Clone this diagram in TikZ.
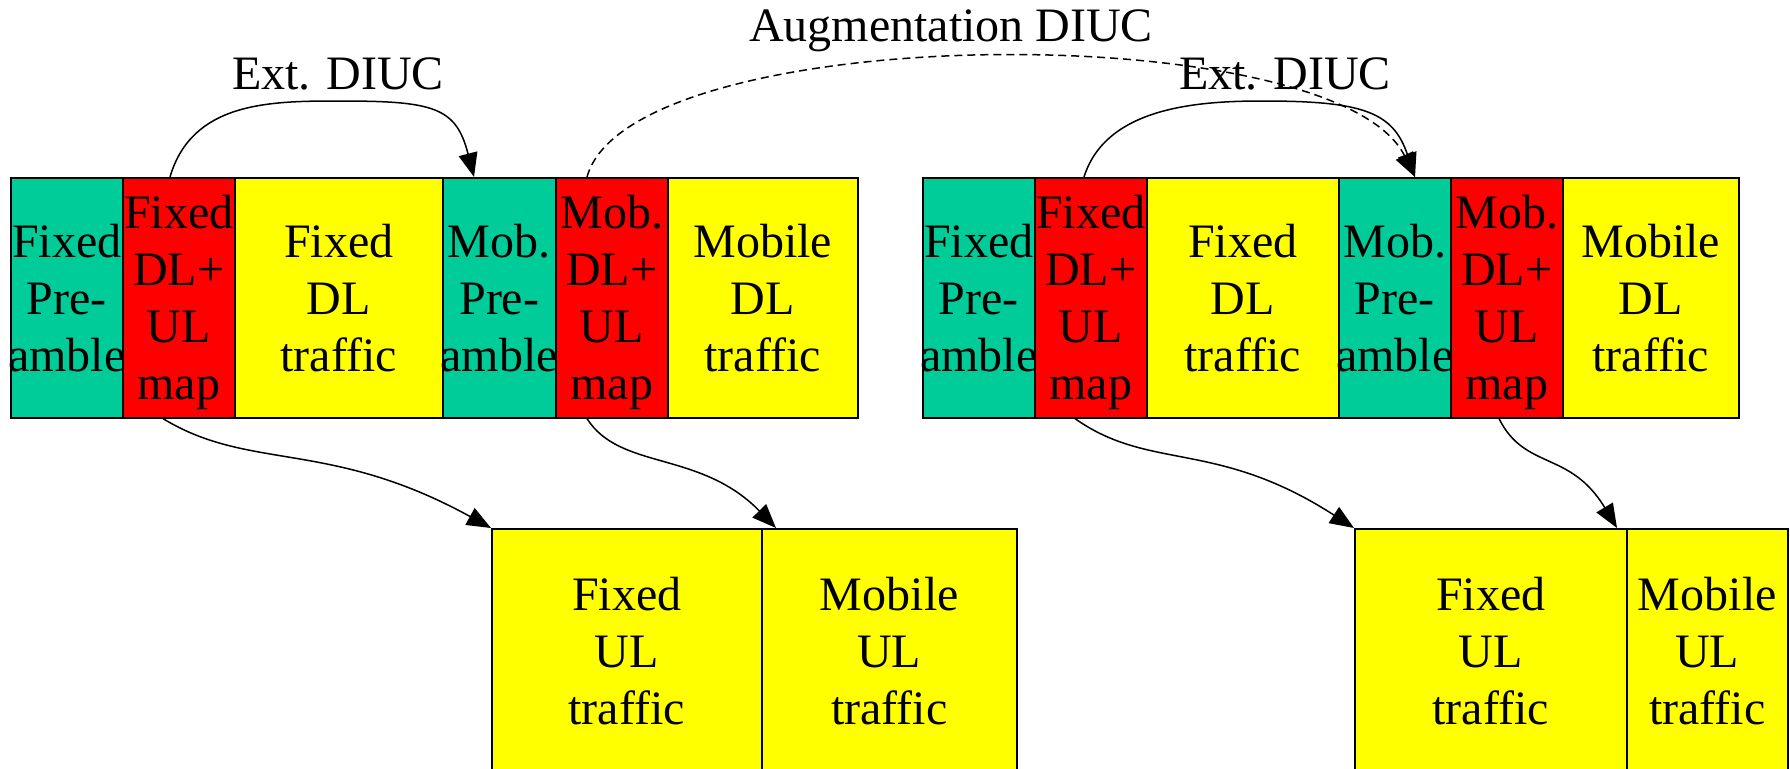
\documentclass[tikz,border=0pt]{standalone}
\usepackage{fontspec}
\setmainfont{Liberation Serif}
\usetikzlibrary{arrows.meta,calc}
\definecolor{tealc}{RGB}{0,204,153}
\definecolor{redc}{RGB}{255,0,0}
\definecolor{yelc}{RGB}{255,255,0}
\newcommand\cl[1]{\makebox[0pt]{#1}}
\newcommand\cln[1]{\makebox[0pt]{\raisebox{0pt}[\height][0pt]{#1}}}
\begin{document}
\begin{tikzpicture}[x=1pt,y=-1pt,
  cell/.style={draw, line width=1.6pt, anchor=north west, inner sep=0pt,
    minimum height=240pt, align=center, font=\fontsize{48}{57}\selectfont},
  lowcell/.style={cell, minimum height=245pt},
  pre/.style={fill=tealc},
  mapc/.style={fill=redc},
  traf/.style={fill=yelc},
  lbl/.style={inner sep=0pt, anchor=base, font=\fontsize{48}{57}\selectfont},
  conn/.style={line width=1.5pt, -{Triangle[length=24pt,width=19pt]}},
  aug/.style={conn, dash pattern=on 8pt off 5pt}]
\useasboundingbox (0,0) rectangle (1790,768);
\clip (0,0) rectangle (1790,768);
% left frame
\node[cell, pre,  minimum width=112pt] (A1) at (10,177)  {\cl{Fixed}\\\cl{Pre-}\\\cl{amble}};
\node[cell, mapc, minimum width=112pt] (A2) at (122,177) {\cl{Fixed}\\\cl{DL+}\\\cl{UL}\\\cln{map}};
\node[cell, traf, minimum width=208pt] (A3) at (234,177) {\cl{Fixed}\\\cl{DL}\\\cl{traffic}};
\node[cell, pre,  minimum width=113pt] (A4) at (442,177) {\cl{Mob.}\\\cl{Pre-}\\\cl{amble}};
\node[cell, mapc, minimum width=112pt] (A5) at (555,177) {\cl{Mob.}\\\cl{DL+}\\\cl{UL}\\\cln{map}};
\node[cell, traf, minimum width=190pt] (A6) at (667,177) {\cl{Mobile}\\\cl{DL}\\\cl{traffic}};
% right frame
\node[cell, pre,  minimum width=112pt] (B1) at (922,177)  {\cl{Fixed}\\\cl{Pre-}\\\cl{amble}};
\node[cell, mapc, minimum width=112pt] (B2) at (1034,177) {\cl{Fixed}\\\cl{DL+}\\\cl{UL}\\\cln{map}};
\node[cell, traf, minimum width=192pt] (B3) at (1146,177) {\cl{Fixed}\\\cl{DL}\\\cl{traffic}};
\node[cell, pre,  minimum width=112pt] (B4) at (1338,177) {\cl{Mob.}\\\cl{Pre-}\\\cl{amble}};
\node[cell, mapc, minimum width=112pt] (B5) at (1450,177) {\cl{Mob.}\\\cl{DL+}\\\cl{UL}\\\cln{map}};
\node[cell, traf, minimum width=176pt] (B6) at (1562,177) {\cl{Mobile}\\\cl{DL}\\\cl{traffic}};
% uplink boxes
\node[lowcell, traf, minimum width=270pt] (C1) at (491,528)  {\cl{Fixed}\\\cl{UL}\\\cl{traffic}};
\node[lowcell, traf, minimum width=255pt] (C2) at (761,528)  {\cl{Mobile}\\\cl{UL}\\\cl{traffic}};
\node[lowcell, traf, minimum width=272pt] (D1) at (1354,528) {\cl{Fixed}\\\cl{UL}\\\cl{traffic}};
\node[lowcell, traf, minimum width=161pt] (D2) at (1626,528) {\cl{Mobile}\\\cl{UL}\\\cl{traffic}};
% labels
\node[lbl] (extL) at (338,89) {Ext. DIUC};
\node[lbl] (extR) at (1285,89) {Ext. DIUC};
\node[lbl] (augL) at (951,42) {Augmentation DIUC};
% top connectors
\draw[conn] ([xshift=48pt]A2.north west) .. controls +(22,-75) and +(-70,0) .. (339,101) coordinate (pk1)
  .. controls +(95,0) and +(-18,-70) .. ([xshift=32pt]A4.north west);
\draw[conn] ([xshift=50pt]B2.north west) .. controls +(22,-70) and +(-65,0) .. (1263,101) coordinate (pk2)
  .. controls +(100,0) and +(-22,-65) .. ([xshift=77pt]B4.north west);
\draw[aug] ([xshift=32pt]A5.north west) .. controls (630,20) and (1335,15) .. ([xshift=77pt]B4.north west);
% bottom connectors
\draw[conn] ([xshift=41pt]A2.south west) .. controls +(87,53) and +(-162,-89) .. (C1.north west);
\draw[conn] ([xshift=32pt]A5.south west) .. controls +(33,52) and +(-76,-78) .. ([xshift=15pt]C2.north west);
\draw[conn] ([xshift=41pt]B2.south west) .. controls +(75,53) and +(-138,-89) .. (D1.north west);
\draw[conn] ([xshift=49pt]B5.south west) .. controls +(26,52) and +(-47,-78) .. ([xshift=-9pt]D2.north west);
\end{tikzpicture}
\end{document}
